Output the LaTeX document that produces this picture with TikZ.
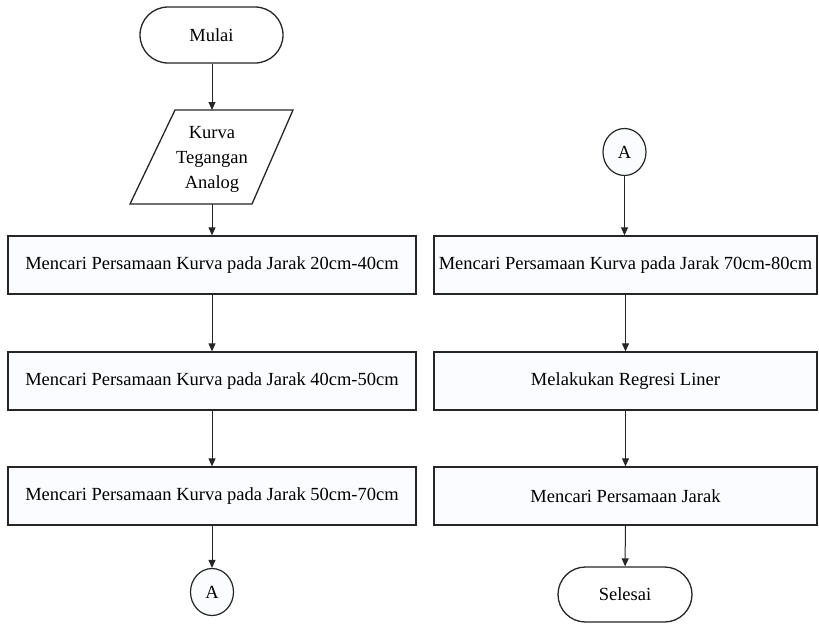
\documentclass[tikz,border=0pt]{standalone}
\usepackage{fontspec}
\setmainfont{Liberation Serif}
\newfontfamily\tnr{Liberation Serif}
\usetikzlibrary{shapes.misc,shapes.geometric,arrows.meta}
\definecolor{ln}{HTML}{262626}
\definecolor{fl}{HTML}{FBFCFF}
\tikzset{
  procbox/.style={draw=ln,line width=1.3pt,fill=fl,rectangle,inner sep=0pt},
  termbox/.style={draw=ln,line width=1.3pt,fill=white,rounded rectangle,inner sep=0pt},
  conn/.style={draw=ln,line width=1.2pt,fill=fl,ellipse,inner sep=0pt,minimum width=43pt,minimum height=47pt},
  flow/.style={draw=ln,line width=1pt,-{Triangle[length=8pt,width=7pt]}},
  txt/.style={font=\tnr\fontsize{18.5}{25}\selectfont}
}
\begin{document}
\begin{tikzpicture}[x=1pt,y=-1pt]
\useasboundingbox (0,0) rectangle (819,624);
% left column
\node[termbox,txt,minimum width=143pt,minimum height=56pt] (mulai) at (211.5,35) {Mulai};
\draw[ln,line width=1.3pt,fill=white] (175,110) -- (293,110) -- (252,204) -- (130,204) -- cycle;
\coordinate (iotop) at (212,110);
\coordinate (iobot) at (212,204);
\node[txt,align=center] (io) at (212,159) {Kurva\\Tegangan\\Analog};
\node[procbox,txt,minimum width=408pt,minimum height=58pt] (b1) at (212,265) {Mencari Persamaan Kurva pada Jarak 20cm-40cm};
\node[procbox,txt,minimum width=408pt,minimum height=58pt] (b2) at (212,381) {Mencari Persamaan Kurva pada Jarak 40cm-50cm};
\node[procbox,txt,minimum width=408pt,minimum height=58pt] (b3) at (212,496) {Mencari Persamaan Kurva pada Jarak 50cm-70cm};
\node[conn,txt] (a1) at (212,592) {A};
% right column
\node[conn,txt] (a2) at (624.5,152) {A};
\node[procbox,txt,minimum width=383pt,minimum height=58pt] (r1) at (625.5,265) {Mencari Persamaan Kurva pada Jarak 70cm-80cm};
\node[procbox,txt,minimum width=383pt,minimum height=58pt] (r2) at (625.5,381) {Melakukan Regresi Liner};
\node[procbox,txt,minimum width=383pt,minimum height=58pt] (r3) at (625.5,496) {Mencari Persamaan Jarak};
\node[termbox,txt,minimum width=134pt,minimum height=55pt] (selesai) at (625,594.5) {Selesai};
% connectors
\draw[flow] (mulai.south -| iotop) -- (iotop);
\draw[flow] (iobot) -- (b1.north -| iobot);
\draw[flow] (b1) -- (b2);
\draw[flow] (b2) -- (b3);
\draw[flow] (b3) -- (a1);
\draw[flow] (a2) -- (r1.north -| a2);
\draw[flow] (r1) -- (r2);
\draw[flow] (r2) -- (r3);
\draw[flow] (r3) -- (selesai);
\end{tikzpicture}
\end{document}
